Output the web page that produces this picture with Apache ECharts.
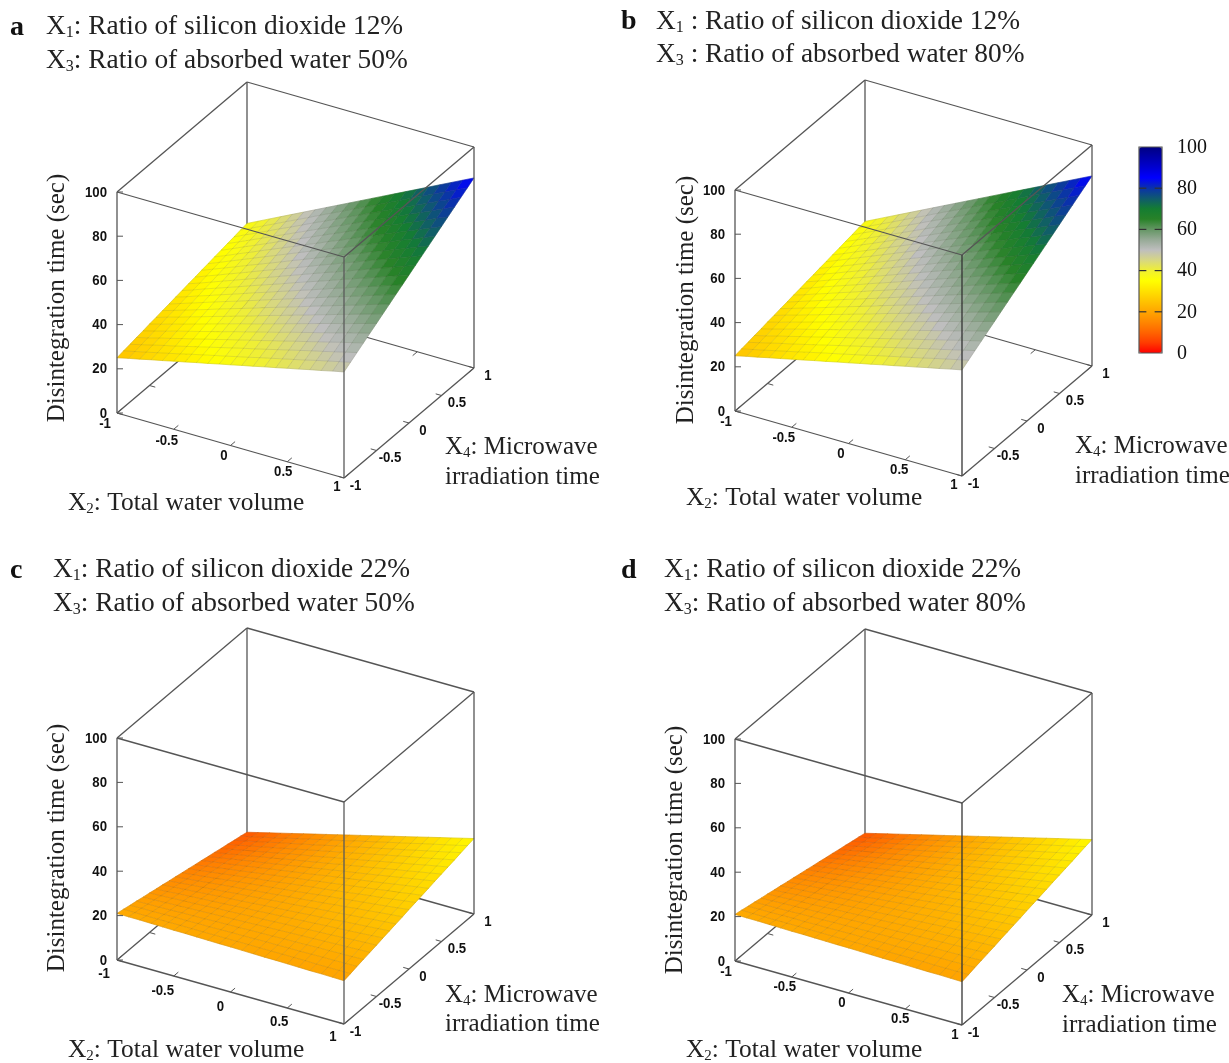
<!DOCTYPE html>
<html><head><meta charset="utf-8">
<style>html,body{margin:0;padding:0;background:#fff}#c{width:1229px;height:1063px}</style>
<script src="https://cdn.jsdelivr.net/npm/echarts@6/dist/echarts.min.js"></script>
</head><body><div id="c"></div>
<script>
const x2Ticks=[-1,-0.5,0,0.5,1];
const x4Ticks=[-1,-0.5,0,0.5,1];
const zTicks=[0,20,40,60,80,100];
const colorbarTicks=[0,20,40,60,80,100];
const colormap=['#ff0000','#ff3c00','#ff6400','#ff8700','#ffa500','#ffc300','#ffe100','#ffff00','#f0f032','#d7d782','#bebebe','#96aa96','#649664','#288228','#147d32','#0f5a6e','#0a32aa','#0000ff','#0000d2','#0000aa','#000082'];
// rows: X4 from -1 to 1; columns: X2 from -1 to 1
const surfaceAB=[
[25.0,26.2,27.3,28.5,29.6,30.8,31.9,33.1,34.2,35.4,36.5,37.7,38.8,40.0,41.1,42.3,43.4,44.6,45.7,46.9,48.0],
[25.6,26.8,28.0,29.2,30.4,31.6,32.9,34.1,35.3,36.5,37.7,38.9,40.2,41.4,42.6,43.8,45.0,46.3,47.5,48.7,49.9],
[26.1,27.4,28.7,30.0,31.2,32.5,33.8,35.1,36.4,37.7,39.0,40.2,41.5,42.8,44.1,45.4,46.7,47.9,49.2,50.5,51.8],
[26.7,28.0,29.4,30.7,32.1,33.4,34.8,36.1,37.5,38.8,40.2,41.5,42.9,44.2,45.6,46.9,48.3,49.6,51.0,52.3,53.7],
[27.2,28.6,30.0,31.5,32.9,34.3,35.7,37.1,38.6,40.0,41.4,42.8,44.2,45.7,47.1,48.5,49.9,51.3,52.8,54.2,55.6],
[27.8,29.2,30.7,32.2,33.7,35.2,36.7,38.2,39.7,41.1,42.6,44.1,45.6,47.1,48.6,50.1,51.6,53.0,54.5,56.0,57.5],
[28.3,29.9,31.4,33.0,34.5,36.1,37.6,39.2,40.7,42.3,43.9,45.4,47.0,48.5,50.1,51.6,53.2,54.7,56.3,57.8,59.4],
[28.9,30.5,32.1,33.7,35.3,37.0,38.6,40.2,41.8,43.5,45.1,46.7,48.3,50.0,51.6,53.2,54.8,56.4,58.1,59.7,61.3],
[29.4,31.1,32.8,34.5,36.2,37.9,39.5,41.2,42.9,44.6,46.3,48.0,49.7,51.4,53.1,54.8,56.4,58.1,59.8,61.5,63.2],
[30.0,31.7,33.5,35.2,37.0,38.7,40.5,42.3,44.0,45.8,47.5,49.3,51.0,52.8,54.6,56.3,58.1,59.8,61.6,63.3,65.1],
[30.5,32.3,34.2,36.0,37.8,39.6,41.5,43.3,45.1,46.9,48.8,50.6,52.4,54.2,56.1,57.9,59.7,61.5,63.4,65.2,67.0],
[31.1,32.9,34.8,36.7,38.6,40.5,42.4,44.3,46.2,48.1,50.0,51.9,53.8,55.6,57.5,59.4,61.3,63.2,65.1,67.0,68.9],
[31.6,33.6,35.5,37.5,39.4,41.4,43.4,45.3,47.3,49.2,51.2,53.2,55.1,57.1,59.0,61.0,63.0,64.9,66.9,68.8,70.8],
[32.2,34.2,36.2,38.2,40.3,42.3,44.3,46.3,48.4,50.4,52.4,54.5,56.5,58.5,60.5,62.6,64.6,66.6,68.6,70.7,72.7],
[32.7,34.8,36.9,39.0,41.1,43.2,45.3,47.4,49.5,51.6,53.7,55.7,57.8,59.9,62.0,64.1,66.2,68.3,70.4,72.5,74.6],
[33.3,35.4,37.6,39.7,41.9,44.1,46.2,48.4,50.6,52.7,54.9,57.0,59.2,61.4,63.5,65.7,67.9,70.0,72.2,74.3,76.5],
[33.8,36.0,38.3,40.5,42.7,45.0,47.2,49.4,51.6,53.9,56.1,58.3,60.6,62.8,65.0,67.3,69.5,71.7,73.9,76.2,78.4],
[34.4,36.6,38.9,41.2,43.5,45.8,48.1,50.4,52.7,55.0,57.3,59.6,61.9,64.2,66.5,68.8,71.1,73.4,75.7,78.0,80.3],
[34.9,37.3,39.6,42.0,44.4,46.7,49.1,51.5,53.8,56.2,58.6,60.9,63.3,65.6,68.0,70.4,72.7,75.1,77.5,79.8,82.2],
[35.5,37.9,40.3,42.7,45.2,47.6,50.0,52.5,54.9,57.3,59.8,62.2,64.6,67.1,69.5,71.9,74.4,76.8,79.2,81.7,84.1],
[36.0,38.5,41.0,43.5,46.0,48.5,51.0,53.5,56.0,58.5,61.0,63.5,66.0,68.5,71.0,73.5,76.0,78.5,81.0,83.5,86.0]];
const surfaceCD=[
[21.0,20.9,20.9,20.8,20.7,20.6,20.6,20.5,20.4,20.3,20.3,20.2,20.1,20.0,20.0,19.9,19.8,19.7,19.7,19.6,19.5],
[20.4,20.3,20.3,20.3,20.3,20.3,20.3,20.3,20.3,20.3,20.3,20.3,20.3,20.3,20.3,20.3,20.3,20.2,20.2,20.2,20.2],
[19.7,19.8,19.8,19.9,20.0,20.0,20.1,20.1,20.2,20.3,20.3,20.4,20.5,20.5,20.6,20.6,20.7,20.8,20.8,20.9,21.0],
[19.1,19.2,19.3,19.4,19.6,19.7,19.8,20.0,20.1,20.2,20.4,20.5,20.6,20.8,20.9,21.0,21.2,21.3,21.4,21.5,21.7],
[18.4,18.6,18.8,19.0,19.2,19.4,19.6,19.8,20.0,20.2,20.4,20.6,20.8,21.0,21.2,21.4,21.6,21.8,22.0,22.2,22.4],
[17.8,18.0,18.3,18.6,18.8,19.1,19.4,19.6,19.9,20.2,20.4,20.7,21.0,21.2,21.5,21.8,22.0,22.3,22.6,22.9,23.1],
[17.1,17.4,17.8,18.1,18.5,18.8,19.1,19.5,19.8,20.1,20.5,20.8,21.2,21.5,21.8,22.2,22.5,22.8,23.2,23.5,23.9],
[16.5,16.9,17.3,17.7,18.1,18.5,18.9,19.3,19.7,20.1,20.5,20.9,21.3,21.7,22.1,22.5,23.0,23.4,23.8,24.2,24.6],
[15.8,16.3,16.8,17.2,17.7,18.2,18.7,19.1,19.6,20.1,20.6,21.0,21.5,22.0,22.5,22.9,23.4,23.9,24.4,24.8,25.3],
[15.2,15.7,16.2,16.8,17.3,17.9,18.4,19.0,19.5,20.0,20.6,21.1,21.7,22.2,22.8,23.3,23.9,24.4,25.0,25.5,26.0],
[14.5,15.1,15.7,16.3,17.0,17.6,18.2,18.8,19.4,20.0,20.6,21.2,21.9,22.5,23.1,23.7,24.3,24.9,25.5,26.1,26.8],
[13.9,14.5,15.2,15.9,16.6,17.3,18.0,18.6,19.3,20.0,20.7,21.4,22.0,22.7,23.4,24.1,24.8,25.4,26.1,26.8,27.5],
[13.2,14.0,14.7,15.5,16.2,17.0,17.7,18.5,19.2,20.0,20.7,21.5,22.2,23.0,23.7,24.5,25.2,26.0,26.7,27.5,28.2],
[12.6,13.4,14.2,15.0,15.8,16.6,17.5,18.3,19.1,19.9,20.7,21.6,22.4,23.2,24.0,24.8,25.6,26.5,27.3,28.1,28.9],
[11.9,12.8,13.7,14.6,15.5,16.3,17.2,18.1,19.0,19.9,20.8,21.7,22.6,23.4,24.3,25.2,26.1,27.0,27.9,28.8,29.7],
[11.3,12.2,13.2,14.1,15.1,16.0,17.0,18.0,18.9,19.9,20.8,21.8,22.7,23.7,24.6,25.6,26.6,27.5,28.5,29.4,30.4],
[10.6,11.6,12.7,13.7,14.7,15.7,16.8,17.8,18.8,19.8,20.9,21.9,22.9,23.9,25.0,26.0,27.0,28.0,29.1,30.1,31.1],
[10.0,11.0,12.1,13.2,14.3,15.4,16.5,17.6,18.7,19.8,20.9,22.0,23.1,24.2,25.3,26.4,27.5,28.5,29.6,30.7,31.8],
[9.3,10.5,11.6,12.8,14.0,15.1,16.3,17.4,18.6,19.8,20.9,22.1,23.3,24.4,25.6,26.7,27.9,29.1,30.2,31.4,32.6],
[8.7,9.9,11.1,12.3,13.6,14.8,16.0,17.3,18.5,19.7,21.0,22.2,23.4,24.7,25.9,27.1,28.4,29.6,30.8,32.0,33.3],
[8.0,9.3,10.6,11.9,13.2,14.5,15.8,17.1,18.4,19.7,21.0,22.3,23.6,24.9,26.2,27.5,28.8,30.1,31.4,32.7,34.0]];
const tagLabels=['a','b','c','d'];
const x1Text=['X|1|: Ratio of silicon dioxide 12%','X|1| : Ratio of silicon dioxide 12%','X|1|: Ratio of silicon dioxide 22%','X|1|: Ratio of silicon dioxide 22%'];
const x3Text=['X|3|: Ratio of absorbed water 50%','X|3| : Ratio of absorbed water 80%','X|3|: Ratio of absorbed water 50%','X|3|: Ratio of absorbed water 80%'];
const x2Title='X|2|: Total water volume';
const x4Title='X|4|: Microwave';
const x4Title2='irradiation time';
const zTitle='Disintegration time (sec)';

// layout of the four boxes: L = (X2=-1,X4=-1,z=0), F = (1,-1,0), R = (1,1,0), h = pixels for z 0..100
const panels=[
 {surf:surfaceAB,L:[117,413],F:[344,478],R:[474,368],h:221,frontColor:'#5a5a5a',
  tag:[10,28],t:[46,27,61],x4t:[445,447,477],x2t:[68,503],zt:[57,298],
  x2off:[[-12,11],[-7,12],[-6.5,10.5],[-4,10],[-7,9]]},
 {surf:surfaceAB,L:[735,411],F:[962,476],R:[1092,366],h:221,frontColor:'#333',
  tag:[621,22],t:[656,22,55],x4t:[1075,446,476],x2t:[686,498],zt:[686,300],
  x2off:[[-9,11],[-8,11],[-7.5,10.5],[-6,10],[-8,9]]},
 {surf:surfaceCD,L:[117,960],F:[344,1024],R:[474,914],h:222,frontColor:'#5a5a5a',
  tag:[10,571],t:[53,570,604],x4t:[445,995,1024],x2t:[68,1050],zt:[57,848],
  x2off:[[-13,14],[-11,15],[-10,15],[-8,14],[-11,13]]},
 {surf:surfaceCD,L:[735,961],F:[962,1025],R:[1092,915],h:222,frontColor:'#333',
  tag:[621,571],t:[664,570,604],x4t:[1062,995,1025],x2t:[686,1050],zt:[675,850],
  x2off:[[-9,11],[-7,10],[-6.5,10],[-5,10],[-7,10]]}
];
const x4off=[[11.5,8],[13.5,7.5],[14,7.5],[15.5,7],[14,7.5]];
const SERIF='"Liberation Serif","Times New Roman",serif';
const TICKFONT='"Liberation Sans",sans-serif';

function proj(p,x2,x4,z){
  const a=(x2+1)/2,b=(x4+1)/2;
  return [p.L[0]+a*(p.F[0]-p.L[0])+b*(p.R[0]-p.F[0]),
          p.L[1]+a*(p.F[1]-p.L[1])+b*(p.R[1]-p.F[1])-z/100*p.h];
}
function seg(api,a,b,color,w){
  const s=api.coord(a),e=api.coord(b);
  return {type:'line',shape:{x1:s[0],y1:s[1],x2:e[0],y2:e[1]},style:{stroke:color,lineWidth:w||1.3}};
}
function label(api,pt,str,align){
  const c=api.coord(pt);
  return {type:'text',x:c[0],y:c[1],scaleX:0.88,style:{text:str,fill:'#111',font:'bold 15px '+TICKFONT,align:align||'center',verticalAlign:'middle'}};
}
function surfaceSeries(p){
  const n=p.surf.length-1,data=[];
  p.surf.forEach((row,j)=>row.forEach((v,i)=>{
    if(i<n&&j<n) data.push([i,j,(v+row[i+1]+p.surf[j+1][i]+p.surf[j+1][i+1])/4]);
  }));
  return {type:'custom',coordinateSystem:'cartesian2d',xAxisIndex:0,yAxisIndex:0,clip:false,z:3,silent:true,
    dimensions:['i','j','z'],encode:{x:0,y:1},data,
    renderItem(params,api){
      const i=api.value(0),j=api.value(1),col=api.visual('color');
      const node=(a,b)=>api.coord(proj(p,-1+2*a/n,-1+2*b/n,p.surf[b][a]));
      return {type:'polygon',shape:{points:[node(i,j),node(i+1,j),node(i+1,j+1),node(i,j+1)]},
        style:{fill:col,stroke:col,lineWidth:0.6}};
    }};
}
function meshSeries(p){
  return {type:'custom',coordinateSystem:'cartesian2d',xAxisIndex:0,yAxisIndex:0,clip:false,z:3.5,silent:true,
    data:[[0,0]],encode:{x:0,y:1},
    renderItem(params,api){
      const n=p.surf.length-1,ch=[],s={stroke:'rgba(70,70,50,0.2)',lineWidth:0.7,fill:'none'};
      const node=(a,b)=>api.coord(proj(p,-1+2*a/n,-1+2*b/n,p.surf[b][a]));
      for(let k=0;k<=n;k++){
        const r=[],c=[];
        for(let m=0;m<=n;m++){r.push(node(m,k));c.push(node(k,m));}
        ch.push({type:'polyline',shape:{points:r},style:s});
        ch.push({type:'polyline',shape:{points:c},style:s});
      }
      return {type:'group',children:ch};
    }};
}
function backSeries(p){
  return {type:'custom',coordinateSystem:'cartesian2d',xAxisIndex:0,yAxisIndex:0,clip:false,z:2,silent:true,
    data:[[0,0]],encode:{x:0,y:1},
    renderItem(params,api){
      const c='#555',ch=[];
      const ex=[p.F[0]-p.L[0],p.F[1]-p.L[1]],ey=[p.R[0]-p.F[0],p.R[1]-p.F[1]];
      const lx=Math.hypot(ex[0],ex[1]),ly=Math.hypot(ey[0],ey[1]);
      ch.push(seg(api,proj(p,-1,1,0),proj(p,-1,1,100),c));
      ch.push(seg(api,proj(p,-1,-1,0),proj(p,-1,1,0),c));
      ch.push(seg(api,proj(p,-1,1,0),proj(p,1,1,0),c));
      x4Ticks.forEach(t=>{const a=proj(p,-1,t,0);ch.push(seg(api,a,[a[0]+ex[0]/lx*6,a[1]+ex[1]/lx*6],c,1));});
      x2Ticks.forEach(t=>{const a=proj(p,t,1,0);ch.push(seg(api,a,[a[0]-ey[0]/ly*6,a[1]-ey[1]/ly*6],c,1));});
      return {type:'group',children:ch};
    }};
}
function frontSeries(p){
  return {type:'custom',coordinateSystem:'cartesian2d',xAxisIndex:0,yAxisIndex:0,clip:false,z:4,silent:true,
    data:[[0,0]],encode:{x:0,y:1},
    renderItem(params,api){
      const c='#555',ch=[];
      const ex=[p.F[0]-p.L[0],p.F[1]-p.L[1]],ey=[p.R[0]-p.F[0],p.R[1]-p.F[1]];
      const lx=Math.hypot(ex[0],ex[1]),ly=Math.hypot(ey[0],ey[1]);
      [[-1,-1,0,1,-1,0],[1,-1,0,1,1,0],
       [-1,-1,100,1,-1,100],[1,-1,100,1,1,100],[1,1,100,-1,1,100],[-1,1,100,-1,-1,100],
       [-1,-1,0,-1,-1,100],[1,1,0,1,1,100]].forEach(q=>ch.push(seg(api,proj(p,q[0],q[1],q[2]),proj(p,q[3],q[4],q[5]),c)));
      ch.push(seg(api,proj(p,1,-1,0),proj(p,1,-1,100),p.frontColor));
      x2Ticks.forEach((t,k)=>{const a=proj(p,t,-1,0);
        ch.push(seg(api,a,[a[0]+ey[0]/ly*6,a[1]+ey[1]/ly*6],c,1));
        ch.push(label(api,[a[0]+p.x2off[k][0],a[1]+p.x2off[k][1]],String(t)));});
      x4Ticks.forEach((t,k)=>{const a=proj(p,1,t,0);
        ch.push(seg(api,a,[a[0]-ex[0]/lx*6,a[1]-ex[1]/lx*6],c,1));
        ch.push(label(api,[a[0]+x4off[k][0],a[1]+x4off[k][1]],String(t)));});
      zTicks.forEach(t=>{const a=proj(p,-1,-1,t);
        ch.push(seg(api,a,[a[0]+6,a[1]],c,1));
        ch.push(label(api,[a[0]-10,a[1]+0.5],String(t),'right'));});
      return {type:'group',children:ch};
    }};
}
function colorbarFrameSeries(){
  return {type:'custom',coordinateSystem:'cartesian2d',xAxisIndex:1,yAxisIndex:1,clip:false,z:8,silent:true,
    data:colorbarTicks.map(t=>[0,t]),encode:{x:0,y:1},
    renderItem(params,api){
      const t=api.value(1),c='#333',ch=[];
      if(t>0&&t<100){
        ch.push(seg(api,[0,t],[0.32,t],c,1.2));
        ch.push(seg(api,[0.68,t],[1,t],c,1.2));
      }
      if(t===0){
        const a=api.coord([0,0]),b=api.coord([1,100]);
        ch.push({type:'rect',shape:{x:a[0],y:b[1],width:b[0]-a[0],height:a[1]-b[1]},style:{fill:'none',stroke:'#555',lineWidth:1.2}});
      }
      const q=api.coord([1,t]);
      ch.push({type:'text',x:q[0]+15,y:q[1]+0.5,style:{text:String(t),font:'20px '+SERIF,fill:'#111',verticalAlign:'middle'}});
      return {type:'group',children:ch};
    }};
}
function rich(str,size){
  const q=str.split('|');
  return {text:'{n|'+q[0]+'}{s|'+q[1]+'}{n|'+q[2]+'}',font:size+'px '+SERIF,fill:'#222',verticalAlign:'middle',
    rich:{n:{fontFamily:'Liberation Serif',fontSize:size,fill:'#222'},s:{fontFamily:'Liberation Serif',fontSize:Math.round(size*0.6),fill:'#222',padding:[12,0,0,0]}}};
}
const graphics=[];
panels.forEach((p,k)=>{
  graphics.push({type:'text',x:p.tag[0],y:p.tag[1],z:10,style:{text:tagLabels[k],font:'bold 28px '+SERIF,fill:'#111',verticalAlign:'middle'}});
  graphics.push({type:'text',x:p.t[0],y:p.t[1],z:10,style:rich(x1Text[k],27.4)});
  graphics.push({type:'text',x:p.t[0],y:p.t[2],z:10,style:rich(x3Text[k],27.4)});
  graphics.push({type:'text',x:p.x4t[0],y:p.x4t[1],z:10,style:rich(x4Title,25)});
  graphics.push({type:'text',x:p.x4t[0],y:p.x4t[2],z:10,style:{text:x4Title2,font:'25px '+SERIF,fill:'#222',verticalAlign:'middle'}});
  graphics.push({type:'text',x:p.x2t[0],y:p.x2t[1],z:10,style:rich(x2Title,25.4)});
  graphics.push({type:'text',x:p.zt[0],y:p.zt[1],z:10,rotation:Math.PI/2,style:{text:zTitle,font:'25px '+SERIF,fill:'#222',align:'center',verticalAlign:'middle'}});
});
const series=[];
const surfaceIdx=[];
panels.forEach(p=>{series.push(backSeries(p));surfaceIdx.push(series.length);series.push(surfaceSeries(p));series.push(meshSeries(p));series.push(frontSeries(p));});
series.push(colorbarFrameSeries());

const chart=echarts.init(document.getElementById('c'),null,{renderer:'canvas'});
chart.setOption({
  animation:false,backgroundColor:'#fff',
  grid:[{left:0,top:0,width:1229,height:1063,show:false},
        {left:1139,top:147,width:23,height:206,show:false}],
  xAxis:[{type:'value',gridIndex:0,min:0,max:1229,show:false},
         {type:'value',gridIndex:1,min:0,max:1,show:false}],
  yAxis:[{type:'value',gridIndex:0,min:0,max:1063,inverse:true,show:false},
         {type:'value',gridIndex:1,min:0,max:100,interval:20,show:false}],
  visualMap:{type:'continuous',min:0,max:100,dimension:2,seriesIndex:surfaceIdx,left:1139,top:147,itemWidth:23,itemHeight:206,
    calculable:false,realtime:false,hoverLink:false,showLabel:false,text:null,padding:0,z:1,inRange:{color:colormap}},
  graphic:graphics,
  series
});
</script></body></html>
